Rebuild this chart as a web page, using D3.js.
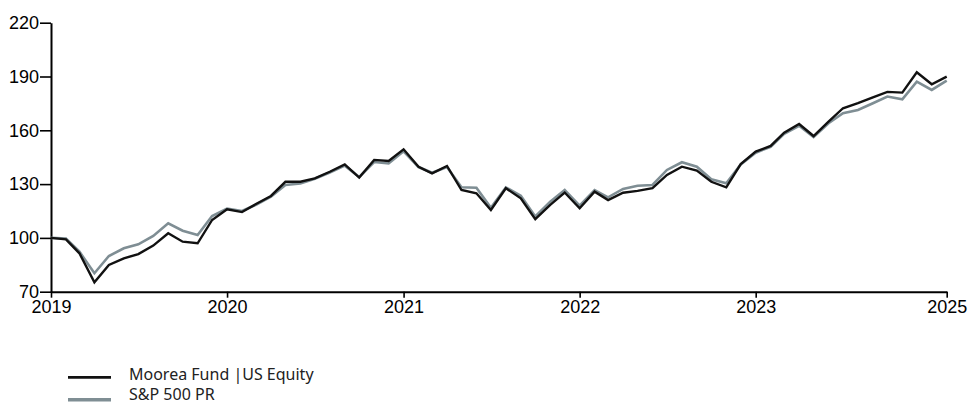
<!DOCTYPE html>
<html>
<head>
<meta charset="utf-8">
<script src="https://cdn.jsdelivr.net/npm/d3@7"></script>
<style>
  html, body { margin: 0; padding: 0; background: #ffffff; }
  svg { display: block; }
</style>
</head>
<body>
<svg id="chart" width="968" height="403"></svg>
<script>
const months = [
  "2019-01","2019-02","2019-03","2019-04","2019-05","2019-06","2019-07","2019-08","2019-09","2019-10","2019-11","2019-12",
  "2020-01","2020-02","2020-03","2020-04","2020-05","2020-06","2020-07","2020-08","2020-09","2020-10","2020-11","2020-12",
  "2021-01","2021-02","2021-03","2021-04","2021-05","2021-06","2021-07","2021-08","2021-09","2021-10","2021-11","2021-12",
  "2022-01","2022-02","2022-03","2022-04","2022-05","2022-06","2022-07","2022-08","2022-09","2022-10","2022-11","2022-12",
  "2023-01","2023-02","2023-03","2023-04","2023-05","2023-06","2023-07","2023-08","2023-09","2023-10","2023-11","2023-12",
  "2024-01","2024-02"
];

const fundValues = [
  100, 99.2, 91.4, 75.2, 84.9, 88.6, 91.0, 95.7, 102.6, 97.9, 97.0, 110.0,
  116.0, 114.4, 118.9, 123.4, 131.3, 131.3, 133.2, 136.9, 141.0, 133.6, 143.5, 142.9,
  149.4, 139.7, 136.0, 140.1, 126.7, 124.9, 115.6, 127.7, 122.1, 110.5, 118.4, 125.3,
  116.5, 125.8, 121.1, 125.2, 126.2, 127.7, 135.1, 139.7, 137.5, 131.3, 128.2, 141.2,
  148.1, 151.3, 158.7, 163.5, 156.8, 164.8, 172.3, 175.1, 178.4, 181.4, 181.0, 192.4,
  185.7, 189.9
];

const spxValues = [
  100, 99.7, 92.3, 80.3, 89.9, 94.2, 96.4, 101.1, 108.1, 104.0, 101.6, 112.2,
  116.3, 115.0, 118.5, 123.0, 129.5, 130.3, 133.0, 136.5, 140.3, 134.0, 142.3, 141.5,
  148.3, 139.5, 136.3, 139.5, 128.2, 128.0, 116.8, 128.2, 123.5, 112.0, 120.2, 126.7,
  118.0, 126.7, 122.6, 127.3, 129.1, 129.5, 137.9, 142.2, 139.7, 132.7, 130.5, 141.0,
  147.5, 150.8, 158.0, 162.5, 156.3, 163.9, 169.5, 171.3, 175.1, 178.8, 177.3, 187.1,
  182.5, 187.7
];

const seriesNames = ["Moorea Fund |US Equity", "S&P 500 PR"];
const seriesColors = ["#111111", "#7f8e94"];

const xTickDates = ["2019-01","2020-01","2021-01","2022-01","2023-01","2024-02"];
const xTickLabels = ["2019","2020","2021","2022","2023","2025"];
const yTicks = [70, 100, 130, 160, 190, 220];

const parse = d3.timeParse("%Y-%m");
const dates = months.map(parse);

const svg = d3.select("#chart");
const mLeft = 51, mRight = 946.7, mTop = 22.7, mBottom = 291.7;

const x = d3.scaleTime()
  .domain([dates[0], dates[dates.length - 1]])
  .range([mLeft, mRight]);
const y = d3.scaleLinear().domain([70, 220]).range([mBottom, mTop]);

// axes
const xAxis = d3.axisBottom(x)
  .tickValues(xTickDates.map(parse))
  .tickFormat((d, i) => xTickLabels[i])
  .tickSize(6).tickSizeOuter(0).tickPadding(3);
const gx = svg.append("g").attr("transform", `translate(0,${mBottom})`).call(xAxis);

const yAxis = d3.axisLeft(y)
  .tickValues(yTicks)
  .tickSize(11).tickSizeOuter(0).tickPadding(1);
const gy = svg.append("g").attr("transform", `translate(${mLeft},0)`).call(yAxis);

[gx, gy].forEach(g => {
  g.selectAll("path.domain").attr("stroke", "#000").attr("stroke-width", 2);
  g.selectAll(".tick line").attr("stroke", "#000").attr("stroke-width", 1.6);
  g.selectAll(".tick text")
    .attr("fill", "#000")
    .style("font-family", "'Liberation Sans', Arial, sans-serif")
    .style("font-size", "18px");
});

// lines
const line = vals => d3.line()
  .x((d, i) => x(dates[i]))
  .y(d => y(d))(vals);

svg.append("path")
  .attr("d", line(spxValues))
  .attr("fill", "none")
  .attr("stroke", seriesColors[1])
  .attr("stroke-width", 2.6)
  .attr("stroke-linejoin", "miter");

svg.append("path")
  .attr("d", line(fundValues))
  .attr("fill", "none")
  .attr("stroke", seriesColors[0])
  .attr("stroke-width", 2.4)
  .attr("stroke-linejoin", "miter");

// legend
const legend = svg.append("g");
const legendLineY = [377.3, 399.8];
const legendTextY = [379.5, 399.5];
seriesNames.forEach((name, i) => {
  legend.append("line")
    .attr("x1", 68).attr("x2", 111)
    .attr("y1", legendLineY[i]).attr("y2", legendLineY[i])
    .attr("stroke", seriesColors[i])
    .attr("stroke-width", i === 0 ? 2.8 : 3.4);
  legend.append("text")
    .attr("x", 129).attr("y", legendTextY[i])
    .attr("fill", "#222")
    .style("font-family", "'Noto Sans', sans-serif")
    .style("font-size", "16px")
    .text(name);
});
</script>
</body>
</html>
